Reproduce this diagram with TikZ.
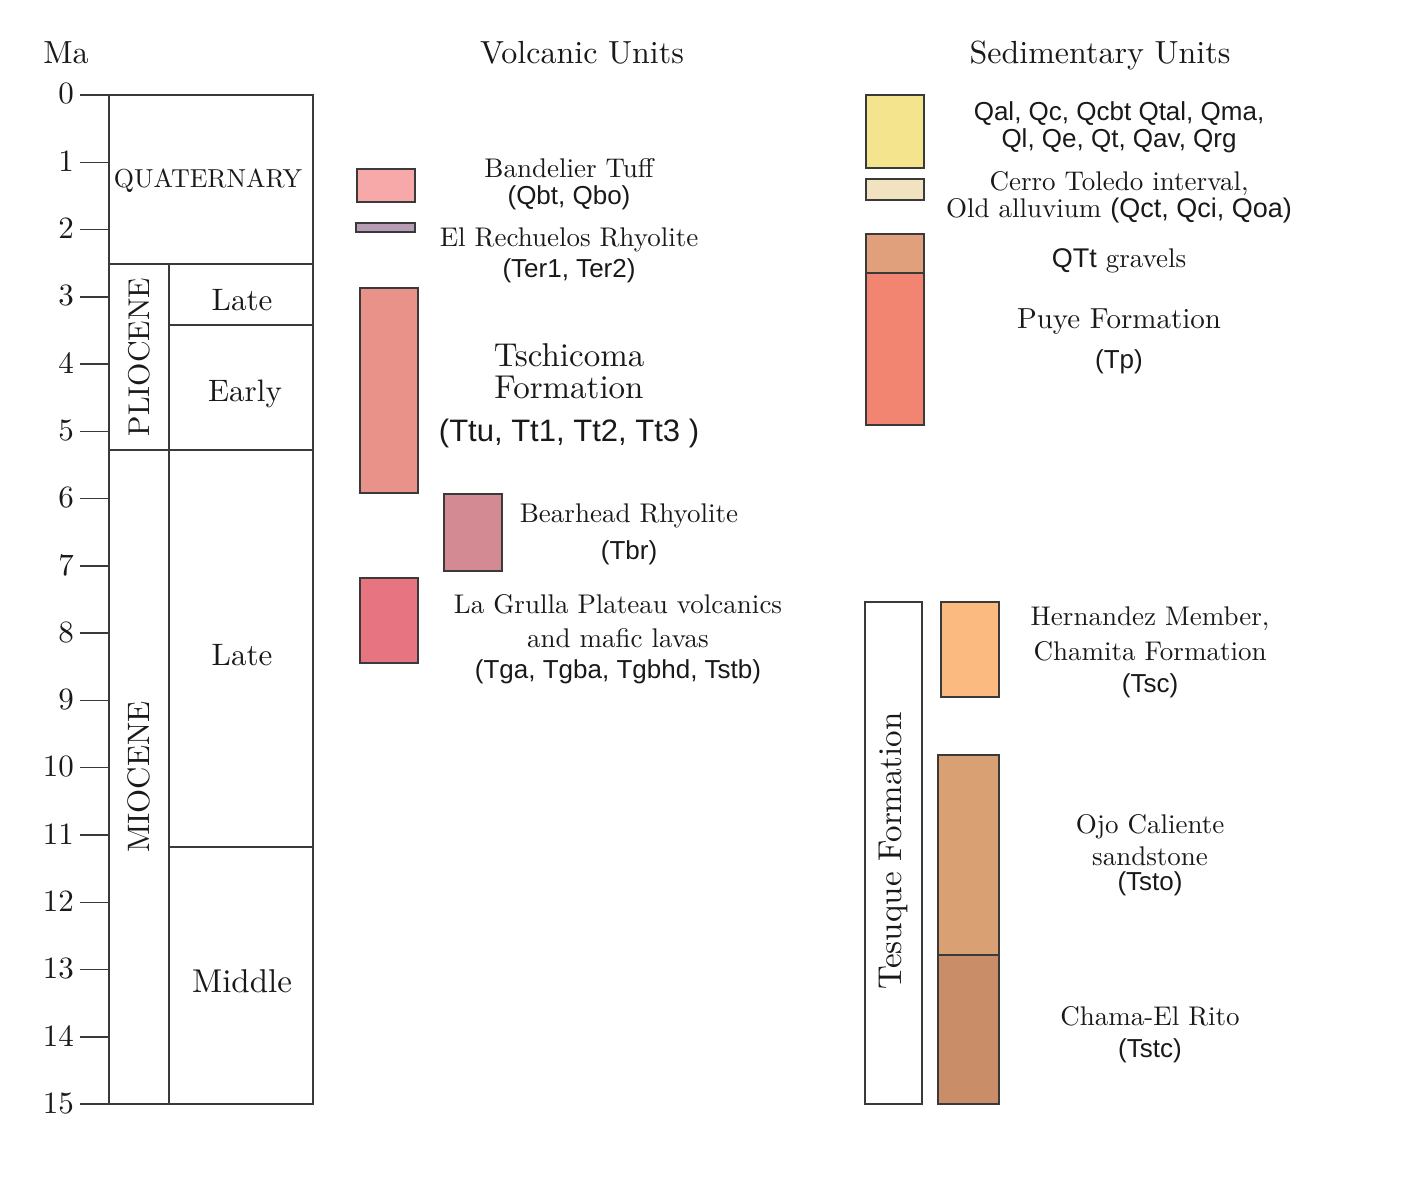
\documentclass[tikz,border=0pt]{standalone}
\usepackage{fontspec}
\setmainfont{lmroman10-regular.otf}
\setsansfont{Liberation Sans}
\usepackage{tikz}

\newcommand{\unitfont}[1]{\fontsize{#1}{#1}\selectfont}

\definecolor{inkgrey}{HTML}{3A3A3A}
\definecolor{bandelier}{HTML}{F7A8A8}
\definecolor{rechuelos}{HTML}{B79CB5}
\definecolor{tschicoma}{HTML}{E9928A}
\definecolor{bearhead}{HTML}{D48A92}
\definecolor{lagrulla}{HTML}{E67581}
\definecolor{quat}{HTML}{F4E48E}
\definecolor{cerrotol}{HTML}{F1E3BF}
\definecolor{qtt}{HTML}{E1A07C}
\definecolor{puye}{HTML}{F28571}
\definecolor{hernandez}{HTML}{FBBA7F}
\definecolor{ojocal}{HTML}{D9A173}
\definecolor{chama}{HTML}{C98D68}

\begin{document}
\begin{tikzpicture}[x=1pt,y=-1pt,
  col/.style={draw=inkgrey,line width=1.4pt},
  unitbox/.style={draw=inkgrey,line width=1.4pt},
  head/.style={font=\unitfont{32},text=black!90,inner sep=0pt},
  numlab/.style={font=\unitfont{31},text=black!90,inner sep=0pt,anchor=east},
  agelab/.style={font=\unitfont{31},text=black!90,inner sep=0pt},
  serlab/.style={font=\unitfont{27},text=black!90,inner sep=0pt,anchor=base},
  sanlab/.style={font=\sffamily\unitfont{26},text=black!90,inner sep=0pt,anchor=base}]
\useasboundingbox (0,0) rectangle (1420,1176);

% headings
\node[head,anchor=base] (ma) at (66,63) {Ma};
\node[head,anchor=base] (volc) at (582,63) {Volcanic Units};
\node[head,anchor=base] (sedi) at (1100,63) {Sedimentary Units};

% time scale
\foreach \m in {0,...,15} {
  \draw[col] (80,{95+67.27*\m}) -- (109,{95+67.27*\m});
  \node[numlab] (tick\m) at (74,{94+67.27*\m}) {\m};
}
\draw[col] (109,95) rectangle (313,1104);
\draw[col] (109,264) -- (313,264);
\draw[col] (169,264) -- (169,1104);
\draw[col] (109,450) -- (313,450);
\draw[col] (169,325) -- (313,325);
\draw[col] (169,847) -- (313,847);

\node[agelab,font=\unitfont{26}] (quaternary) at (208,181) {QUATERNARY};
\node[agelab,font=\unitfont{30},rotate=90] (pliocene) at (139,357) {PLIOCENE};
\node[agelab,rotate=90] (miocene) at (139,777) {MIOCENE};
\node[agelab] (plioLate) at (242,300) {Late};
\node[agelab] (plioEarly) at (245,394) {Early};
\node[agelab] (mioLate) at (242,655) {Late};
\node[agelab,font=\unitfont{33}] (mioMiddle) at (242,981) {Middle};

% volcanic units
\draw[unitbox,fill=bandelier] (357,169) rectangle (415,202);
\draw[unitbox,fill=rechuelos] (356,223) rectangle (415,232);
\draw[unitbox,fill=tschicoma] (360,288) rectangle (418,493);
\draw[unitbox,fill=bearhead] (444,494) rectangle (502,571);
\draw[unitbox,fill=lagrulla] (360,578) rectangle (418,663);

\node[serlab] (qbtA) at (569,177) {Bandelier Tuff};
\node[sanlab] (qbtB) at (569,204) {(Qbt, Qbo)};
\node[serlab] (terA) at (569,246) {El Rechuelos Rhyolite};
\node[sanlab] (terB) at (569,277) {(Ter1, Ter2)};
\node[serlab,font=\unitfont{33}] (ttA) at (569,366) {Tschicoma};
\node[serlab,font=\unitfont{33}] (ttB) at (569,398) {Formation};
\node[sanlab,font=\sffamily\unitfont{31}] (ttC) at (569,441) {(Ttu, Tt1, Tt2, Tt3 )};
\node[serlab] (tbrA) at (629,522) {Bearhead Rhyolite};
\node[sanlab] (tbrB) at (629,559) {(Tbr)};
\node[serlab] (tgaA) at (618,613) {La Grulla Plateau volcanics};
\node[serlab] (tgaB) at (618,647) {and mafic lavas};
\node[sanlab] (tgaC) at (618,678) {(Tga, Tgba, Tgbhd, Tstb)};

% sedimentary units
\draw[unitbox,fill=quat] (866,95) rectangle (924,168);
\draw[unitbox,fill=cerrotol] (866,179) rectangle (924,200);
\draw[unitbox,fill=qtt] (866,234) rectangle (924,273);
\draw[unitbox,fill=puye] (866,273) rectangle (924,425);
\draw[unitbox,fill=white] (865,602) rectangle (922,1104);
\draw[unitbox,fill=hernandez] (941,602) rectangle (999,697);
\draw[unitbox,fill=ojocal] (938,755) rectangle (999,955);
\draw[unitbox,fill=chama] (938,955) rectangle (999,1104);

\node[sanlab] (qalA) at (1119,120) {Qal, Qc, Qcbt Qtal, Qma,};
\node[sanlab] (qalB) at (1119,147) {Ql, Qe, Qt, Qav, Qrg};
\node[serlab] (qctA) at (1119,190) {Cerro Toledo interval,};
\node[serlab] (qctB) at (1119,217) {Old alluvium \textsf{(Qct, Qci, Qoa)}};
\node[serlab] (qttA) at (1119,267) {\textsf{QTt} gravels};
\node[serlab,font=\unitfont{29}] (tpA) at (1119,328) {Puye Formation};
\node[sanlab] (tpB) at (1119,368) {(Tp)};
\node[agelab,font=\unitfont{33},rotate=90] (tesuque) at (893,851) {Tesuque Formation};
\node[serlab] (tscA) at (1150,625) {Hernandez Member,};
\node[serlab] (tscB) at (1150,660) {Chamita Formation};
\node[sanlab] (tscC) at (1150,692) {(Tsc)};
\node[serlab] (tstoA) at (1150,833) {Ojo Caliente};
\node[serlab] (tstoB) at (1150,865) {sandstone};
\node[sanlab] (tstoC) at (1150,890) {(Tsto)};
\node[serlab] (tstcA) at (1150,1025) {Chama-El Rito};
\node[sanlab] (tstcB) at (1150,1057) {(Tstc)};
\end{tikzpicture}
\end{document}
